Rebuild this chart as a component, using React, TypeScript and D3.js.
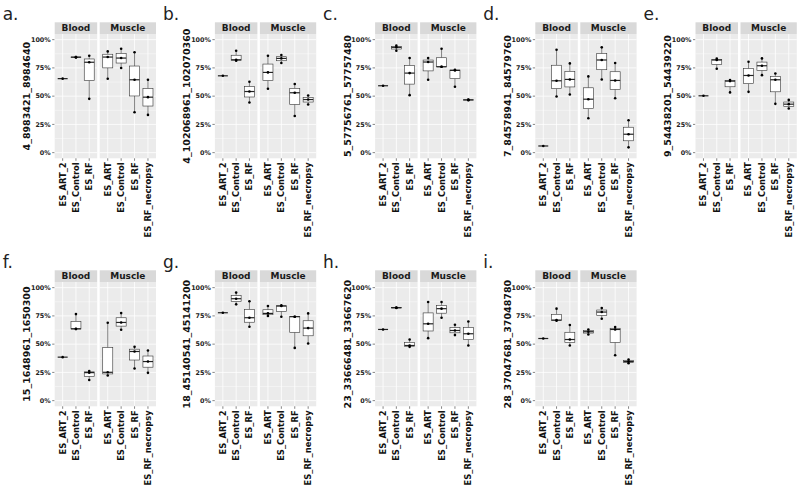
import React, { useEffect, useRef } from 'react';
import * as d3 from 'd3';

const WIDTH = 800;
const HEIGHT = 493;

const panelLetters = ['a', 'b', 'c', 'd', 'e', 'f', 'g', 'h', 'i'];
const siteNames = [
  '4_8983421_8984640',
  '4_102068961_102070360',
  '5_57756761_57757480',
  '7_84578941_84579760',
  '9_54438201_54439220',
  '15_1648961_1650300',
  '18_45140541_45141200',
  '23_33666481_33667620',
  '28_37047681_37048780',
];
const facetNames = ['Blood', 'Muscle'];
const bloodGroups = ['ES_ART_2', 'ES_Control', 'ES_RF'];
const muscleGroups = ['ES_ART', 'ES_Control', 'ES_RF', 'ES_RF_necropsy'];
const yTicks = [0, 25, 50, 75, 100];
const yMinorTicks = [12.5, 37.5, 62.5, 87.5];

// methylation (%) per sample; group order = blood groups then muscle groups
const valuesA = [[65.5], [84.3, 84.5, 84.7], [47.6, 80, 85.8], [65.4, 84.6, 89.6], [74.9, 83.7, 92], [35.8, 64.5, 88.8], [33.4, 49.1, 64.5]];
const valuesB = [[68], [81.4, 82.2, 90.2], [44.4, 54.1, 62.7], [56.5, 71, 85.8], [79.3, 83.4, 86.4], [32.5, 53, 60.7], [42.6, 47, 50.6]];
const valuesC = [[59.2], [90.2, 93.2, 94.7], [50.9, 70.4, 83.7], [64.5, 80.2, 83.7], [76, 76, 92], [58.3, 72.8, 73.4], [46.4, 46.7, 46.9]];
const valuesD = [[5.9], [49.7, 63.6, 91.1], [51.5, 64.8, 79], [30.5, 47.3, 67.5], [64.8, 82, 93.2], [48.2, 63.9, 79.3], [4.7, 16.3, 28.7]];
const valuesE = [[50.3], [74.3, 82, 83.2], [53.3, 63.3, 64.2], [53.8, 68.3, 80.5], [68.6, 76.9, 83.4], [43.2, 64.5, 70.1], [39.1, 42.9, 46.7]];
const valuesF = [[38.5], [63.3, 63.6, 76.6], [18.3, 24.8, 26.2], [22.2, 25.1, 68.9], [62.7, 69.2, 77.5], [28.4, 43.5, 47.6], [24.6, 34.6, 44.4]];
const valuesG = [[77.8], [85.2, 90.2, 95.6], [65.4, 73.4, 87.9], [74.9, 77.2, 83.7], [74.3, 83.7, 84.3], [46.7, 74.3, 74.3], [50.6, 64.2, 77.2]];
const valuesH = [[63], [82, 82.2, 82.4], [47.6, 48.8, 54.1], [55.3, 68, 87.3], [73.4, 81.4, 87.3], [58, 62.1, 67.2], [48.8, 59.2, 70.1]];
const valuesI = [[55], [70.7, 71.3, 81.4], [48.8, 54.1, 66.9], [58.6, 61, 63], [72.5, 78.4, 82], [40.2, 63, 65.1], [33.1, 34.6, 36.4]];

const panelValues = [valuesA, valuesB, valuesC, valuesD, valuesE, valuesF, valuesG, valuesH, valuesI];

const FONT = '"DejaVu Sans", sans-serif';

function boxStats(vals: number[]) {
  const s = [...vals].sort(d3.ascending);
  const q1 = d3.quantile(s, 0.25) as number;
  const med = d3.quantile(s, 0.5) as number;
  const q3 = d3.quantile(s, 0.75) as number;
  const iqr = q3 - q1;
  const lo = d3.min(s.filter(v => v >= q1 - 1.5 * iqr)) as number;
  const hi = d3.max(s.filter(v => v <= q3 + 1.5 * iqr)) as number;
  return { q1, med, q3, lo, hi };
}

function App() {
  const svgRef = useRef<SVGSVGElement>(null);

  useEffect(() => {
    const svg = d3.select(svgRef.current);
    svg.selectAll('*').remove();

    svg.append('rect').attr('width', WIDTH).attr('height', HEIGHT).attr('fill', '#fff');

    const stripH = 11.7;
    const panelH = 124.3;
    const gap = 2.5;
    const bloodW = 42.5;
    const muscleW = 56.3;

    panelValues.forEach((values, p) => {
      const row = p < 5 ? 0 : 1;
      const col = p < 5 ? p : p - 5;
      const x0 = 54.7 + 160.2 * col;
      const top = 22.3 + 248 * row;
      const pTop = top + stripH;
      const pBottom = pTop + panelH;

      const g = svg.append('g');

      const y = d3.scaleLinear().domain([-5, 105]).range([pBottom, pTop]);

      // panel letter
      g.append('text')
        .attr('x', x0 - 52)
        .attr('y', top - 2.3)
        .attr('font-family', FONT)
        .attr('font-size', 17)
        .attr('fill', '#222')
        .text(`${panelLetters[p]}.`);

      // y title
      g.append('text')
        .attr('transform', `translate(${x0 - 24.5},${(pTop + pBottom) / 2}) rotate(-90)`)
        .attr('text-anchor', 'middle')
        .attr('font-family', FONT)
        .attr('font-weight', 'bold')
        .attr('font-size', 9.5)
        .attr('fill', '#111')
        .text(siteNames[p]);

      // y ticks + labels
      yTicks.forEach(t => {
        g.append('line')
          .attr('x1', x0 - 2.5).attr('x2', x0)
          .attr('y1', y(t)).attr('y2', y(t))
          .attr('stroke', '#333').attr('stroke-width', 0.6);
        g.append('text')
          .attr('x', x0 - 4)
          .attr('y', y(t))
          .attr('dy', '0.35em')
          .attr('text-anchor', 'end')
          .attr('font-family', FONT)
          .attr('font-weight', 'bold')
          .attr('font-size', 6.4)
          .attr('fill', '#222')
          .text(`${t}%`);
      });

      const facets = [
        { name: facetNames[0], groups: bloodGroups, left: x0, w: bloodW, vals: values.slice(0, 3) },
        { name: facetNames[1], groups: muscleGroups, left: x0 + bloodW + gap, w: muscleW, vals: values.slice(3) },
      ];

      facets.forEach(f => {
        const x = d3.scalePoint<string>()
          .domain(f.groups)
          .range([f.left, f.left + f.w])
          .padding(0.6);
        const bw = x.step() * 0.75;

        // strip
        g.append('rect')
          .attr('x', f.left).attr('y', top)
          .attr('width', f.w).attr('height', stripH)
          .attr('fill', '#D9D9D9');
        g.append('text')
          .attr('x', f.left + f.w / 2)
          .attr('y', top + stripH / 2)
          .attr('dy', '0.36em')
          .attr('text-anchor', 'middle')
          .attr('font-family', FONT)
          .attr('font-weight', 'bold')
          .attr('font-size', 9)
          .attr('fill', '#1A1A1A')
          .text(f.name);

        // panel background + grid
        g.append('rect')
          .attr('x', f.left).attr('y', pTop)
          .attr('width', f.w).attr('height', panelH)
          .attr('fill', '#EBEBEB');
        yMinorTicks.forEach(t => {
          g.append('line')
            .attr('x1', f.left).attr('x2', f.left + f.w)
            .attr('y1', y(t)).attr('y2', y(t))
            .attr('stroke', '#fff').attr('stroke-width', 0.4);
        });
        yTicks.forEach(t => {
          g.append('line')
            .attr('x1', f.left).attr('x2', f.left + f.w)
            .attr('y1', y(t)).attr('y2', y(t))
            .attr('stroke', '#fff').attr('stroke-width', 0.8);
        });
        f.groups.forEach(grp => {
          const cx = x(grp) as number;
          g.append('line')
            .attr('x1', cx).attr('x2', cx)
            .attr('y1', pTop).attr('y2', pBottom)
            .attr('stroke', '#fff').attr('stroke-width', 0.8);
          // x tick + label
          g.append('line')
            .attr('x1', cx).attr('x2', cx)
            .attr('y1', pBottom).attr('y2', pBottom + 2.5)
            .attr('stroke', '#333').attr('stroke-width', 0.6);
          g.append('text')
            .attr('transform', `translate(${cx},${pBottom + 4}) rotate(-90)`)
            .attr('dy', '0.35em')
            .attr('text-anchor', 'end')
            .attr('font-family', FONT)
            .attr('font-weight', 'bold')
            .attr('font-size', 8.4)
            .attr('fill', '#111')
            .text(grp);
        });

        // boxes
        f.groups.forEach((grp, i) => {
          const cx = x(grp) as number;
          const vals = f.vals[i];
          const s = boxStats(vals);
          g.append('line')
            .attr('x1', cx).attr('x2', cx)
            .attr('y1', y(s.hi)).attr('y2', y(s.q3))
            .attr('stroke', '#333').attr('stroke-width', 0.6);
          g.append('line')
            .attr('x1', cx).attr('x2', cx)
            .attr('y1', y(s.q1)).attr('y2', y(s.lo))
            .attr('stroke', '#333').attr('stroke-width', 0.6);
          g.append('rect')
            .attr('x', cx - bw / 2)
            .attr('y', y(s.q3))
            .attr('width', bw)
            .attr('height', Math.max(0, y(s.q1) - y(s.q3)))
            .attr('fill', '#fff')
            .attr('stroke', '#333')
            .attr('stroke-width', 0.6);
          g.append('line')
            .attr('x1', cx - bw / 2).attr('x2', cx + bw / 2)
            .attr('y1', y(s.med)).attr('y2', y(s.med))
            .attr('stroke', '#222').attr('stroke-width', 1.2);
          vals.forEach(v => {
            g.append('circle')
              .attr('cx', cx)
              .attr('cy', y(v))
              .attr('r', 1.3)
              .attr('fill', '#000');
          });
        });
      });
    });
  }, []);

  return (
    <svg
      ref={svgRef}
      width={WIDTH}
      height={HEIGHT}
      style={{ position: 'absolute', left: 0, top: 0, display: 'block' }}
    />
  );
}

export default App;
